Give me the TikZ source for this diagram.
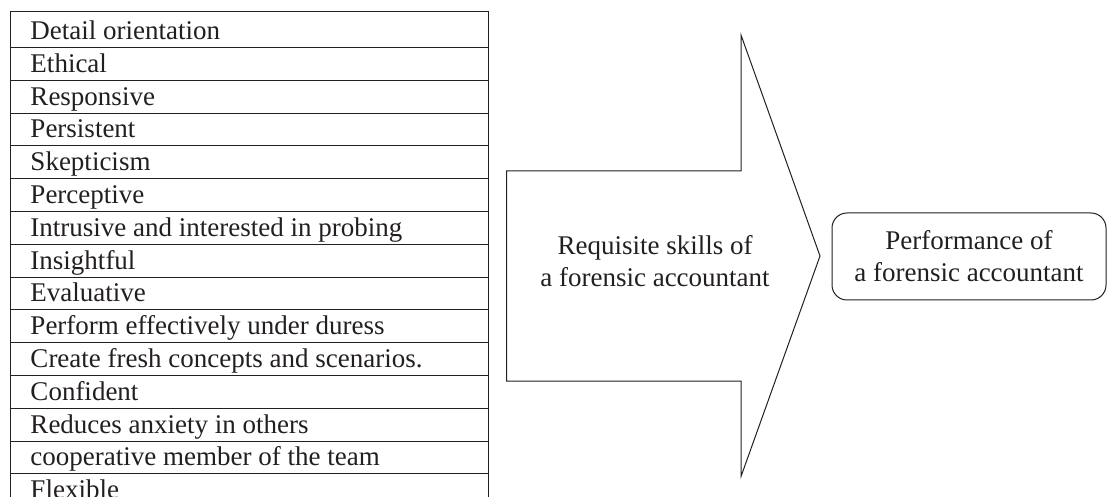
\documentclass[tikz,border=0pt]{standalone}
\usepackage{fontspec}
\setmainfont{Liberation Serif}
\definecolor{ink}{RGB}{35,31,32}
\begin{document}
\begin{tikzpicture}[x=1pt,y=-1pt,line width=1pt]
\tikzset{
  item/.style={anchor=base west,inner sep=0pt,text=ink,font=\fontsize{27}{32}\selectfont},
  label/.style={align=center,inner sep=0pt,text=ink,font=\fontsize{27}{32}\selectfont},
  frame/.style={draw=ink,line width=1pt},
  perfbox/.style={draw=ink,line width=1pt,rounded corners=15pt,minimum width=274pt,minimum height=87pt,align=center,inner sep=0pt,text=ink,font=\fontsize{27}{32}\selectfont}
}
\useasboundingbox (0,0) rectangle (1112,497);
\clip (0,0) rectangle (1112,497);
% table frame
\draw[frame] (10,497) -- (10,12) -- (488,12) -- (488,497);
\foreach \k in {1,...,14}{
  \draw[frame] (10,{47.5+32.8*(\k-1)}) -- (488,{47.5+32.8*(\k-1)});
}
\foreach \t [count=\i] in {Detail orientation,Ethical,Responsive,Persistent,Skepticism,Perceptive,Intrusive and interested in probing,Insightful,Evaluative,Perform effectively under duress,Create fresh concepts and scenarios.,Confident,Reduces anxiety in others,cooperative member of the team,Flexible}{
  \node[item] (r\i) at (30,{47.5+32.8*(\i-1)-8}) {\t};
}
% big arrow
\draw[frame,line join=miter] (506.7,171) -- (741,171) -- (741,35) -- (820,256) -- (741,476.5) -- (741,381) -- (506.7,381) -- cycle;
\node[label] (req) at (655,261) {Requisite skills of\\a forensic accountant};
% result box
\node[perfbox] (perf) at (969,256.5) {Performance of\\a forensic accountant};
\end{tikzpicture}
\end{document}
